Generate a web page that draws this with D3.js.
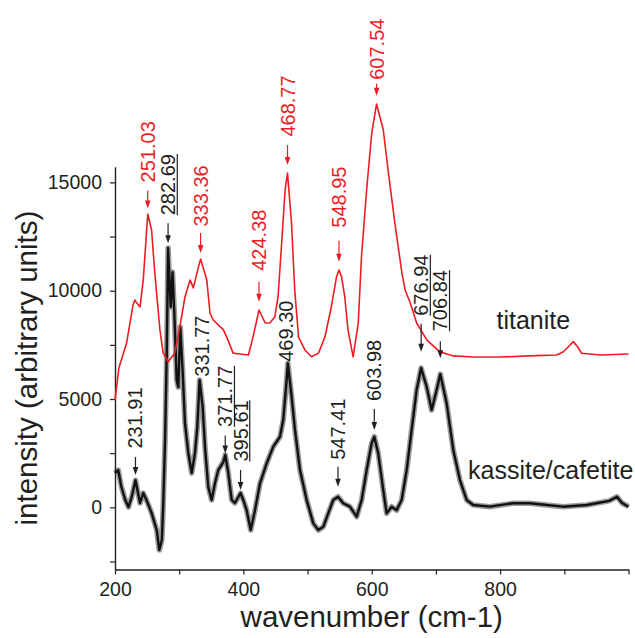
<!DOCTYPE html>
<html>
<head>
<meta charset="utf-8">
<script src="https://cdn.jsdelivr.net/npm/d3@7"></script>
<style>
  html, body { margin: 0; padding: 0; background: #ffffff; }
  svg { display: block; font-family: "Liberation Sans", Arial, Helvetica, sans-serif; }
</style>
</head>
<body>
<svg id="chart" width="635" height="638"></svg>
<script>
// Raman spectrum of titanite (offset upward)
const titaniteWavenumber = [200, 206, 218, 228, 231, 234, 239, 244, 249, 251, 257, 262, 270, 275, 283, 293, 301, 309, 317, 322, 330, 333.4, 343, 348, 353, 369, 376, 384, 395, 408, 415, 424.4, 434, 441, 449, 454, 460, 465, 468.8, 475, 480, 486, 496, 506, 517, 527, 537, 545, 549, 553, 558, 563, 571, 579, 584, 592, 600, 607.5, 618, 626, 636, 647, 652, 660, 670, 686, 706, 727, 758, 800, 846, 888, 898, 906, 914, 921, 927, 956, 1000];
const titaniteIntensity = [4950, 6430, 7570, 9340, 9570, 9430, 9250, 10490, 12650, 13540, 12800, 10820, 8190, 7120, 6720, 7120, 8320, 9710, 10490, 10130, 11090, 11460, 10490, 8970, 8650, 8190, 7720, 7120, 7080, 7030, 7860, 9110, 8510, 8510, 8790, 9710, 12340, 14650, 15430, 13130, 10030, 7860, 7260, 6950, 7120, 7860, 9250, 10630, 10960, 10630, 9710, 8190, 6950, 8510, 11560, 14650, 17280, 18620, 17420, 15430, 13130, 10820, 10030, 9430, 8510, 7720, 7180, 6990, 6940, 6940, 6990, 7030, 7170, 7400, 7650, 7400, 7110, 7030, 7080];

// Raman spectrum of kassite/cafetite
const kassiteWavenumber = [200, 205, 210, 216, 221, 226, 231.9, 239, 244, 249, 257, 265, 269, 273, 275, 278, 280.5, 281.7, 282.7, 286.8, 289.6, 292.4, 294.2, 296.1, 298.6, 301.7, 305.5, 309, 314.2, 319.5, 324.6, 328.2, 331.8, 336.6, 340.2, 345.3, 350.6, 355.8, 360.9, 368.7, 371.8, 376.5, 381.8, 386.9, 395.6, 399.8, 405.1, 411.4, 418.1, 425.9, 436.3, 446.6, 457, 462.1, 467.4, 469.3, 475.2, 480.4, 488.2, 498.6, 508.9, 516.7, 524.5, 532.2, 540, 547.4, 555.6, 566, 576.5, 584.3, 592.1, 599.8, 604, 610.1, 617.9, 623.2, 631, 638.8, 646.6, 654.4, 662.1, 669.9, 676.9, 685.5, 693.3, 701.1, 706.8, 716.7, 727, 737.4, 747.8, 758, 784, 820, 846, 898, 935, 970, 982, 990, 1000];
const kassiteIntensity = [1580, 1720, 940, 340, 10, 480, 1250, 200, 660, 340, -260, -1050, -1970, -1510, 10, 3110, 6940, 9570, 11970, 9250, 10860, 8970, 7490, 5880, 5550, 8320, 6200, 3890, 2510, 1580, 2510, 3710, 5880, 4630, 2780, 940, 340, 1120, 1720, 2090, 2420, 1580, 340, 200, 660, 340, -130, -1050, -130, 1110, 2030, 2800, 3260, 4030, 5880, 6650, 5110, 3570, 1720, 340, -740, -1050, -900, -280, 340, 490, 190, 30, -430, 340, 1720, 2960, 3260, 2490, 800, -280, 30, -130, 340, 1720, 3570, 5420, 6430, 5570, 4490, 5420, 6150, 4800, 2650, 1260, 340, 110, 30, 190, 190, 30, 110, 300, 490, 200, 30];

// Axis ticks
const xTicks = [200, 300, 400, 500, 600, 700, 800, 900, 1000];
const xTickLabels = [200, 400, 600, 800];
const yTicks = [-2500, 0, 2500, 5000, 7500, 10000, 12500, 15000];
const yTickLabels = [0, 5000, 10000, 15000];

// Peak annotations: text, position, series, intensity at the arrow tip
const peakText = ["251.03", "333.36", "424.38", "468.77", "548.95", "607.54",
                  "282.69", "231.91", "331.77", "371.77", "395.61", "469.30", "547.41", "603.98", "676.94", "706.84"];
const peakWavenumber = [251.03, 333.36, 424.38, 468.77, 548.95, 607.54,
                        282.69, 231.91, 331.77, 371.77, 395.61, 469.30, 547.41, 603.98, 676.94, 706.84];
const peakSeries = ["titanite", "titanite", "titanite", "titanite", "titanite", "titanite",
                    "kassite", "kassite", "kassite", "kassite", "kassite", "kassite", "kassite", "kassite", "kassite", "kassite"];
const peakTipLevel = [13800, 11740, 9490, 15800, 11340, 19000,
                      12190, 1490, 6030, 2490, 800, 6720, 950, 3570, 7180, 6880];

// How each annotation is drawn: arrow length / gap to text (px), underline, arrow on/off
const peakLayout = [
  { len: 18, gap: 8, under: false, arrow: true },
  { len: 20, gap: 6.5, under: false, arrow: true },
  { len: 20, gap: 11, under: false, arrow: true },
  { len: 20, gap: 8.5, under: false, arrow: true },
  { len: 21, gap: 13, under: false, arrow: true },
  { len: 12, gap: 4, under: false, arrow: true },
  { len: 20, gap: 8, under: true, arrow: true },
  { len: 18, gap: 8.5, under: false, arrow: true },
  { len: 0, gap: 0, under: false, arrow: false, dx: 2.5 },
  { len: 18, gap: 8.5, under: true, arrow: true },
  { len: 20, gap: 8.5, under: true, arrow: true },
  { len: 0, gap: 0, under: false, arrow: false, dx: -2 },
  { len: 20, gap: 7, under: false, arrow: true },
  { len: 21, gap: 8, under: false, arrow: true },
  { len: 28, gap: 8, under: true, arrow: true },
  { len: 17, gap: 10, under: true, arrow: true }
];

const RED = "#ed1c24";
const INK = "#231f20";
const seriesColor = { titanite: RED, kassite: INK };

const svg = d3.select("#chart");

const x = d3.scaleLinear().domain([200, 1000]).range([115, 628.5]);
const y = d3.scaleLinear().domain([-2870, 15725]).range([569.5, 166.7]);

// Axes
const xAxis = d3.axisBottom(x)
  .tickValues(xTicks)
  .tickFormat(d => xTickLabels.includes(d) ? d : "")
  .tickSize(5).tickSizeOuter(0).tickPadding(7.5);
const yAxis = d3.axisLeft(y)
  .tickValues(yTicks)
  .tickFormat(d => yTickLabels.includes(d) ? d : "")
  .tickSize(5).tickSizeOuter(0).tickPadding(8);

const gx = svg.append("g").attr("transform", `translate(0,${y.range()[0]})`).call(xAxis);
const gy = svg.append("g").attr("transform", `translate(${x.range()[0]},0)`).call(yAxis);
[gx, gy].forEach(g => {
  g.select(".domain").attr("stroke", INK).attr("stroke-width", 1.4);
  g.selectAll(".tick line").attr("stroke", INK).attr("stroke-width", 1.2);
  g.selectAll(".tick text").attr("fill", INK).attr("font-size", 19.5)
    .attr("font-family", "Liberation Sans, Arial, sans-serif");
});

// Axis titles
svg.append("text")
  .attr("x", (x.range()[0] + x.range()[1]) / 2).attr("y", 626.5)
  .attr("text-anchor", "middle").attr("font-size", 29.5).attr("fill", INK)
  .text("wavenumber (cm-1)");
svg.append("text")
  .attr("transform", `translate(36.5,${(y.range()[0] + y.range()[1]) / 2}) rotate(-90)`)
  .attr("text-anchor", "middle").attr("font-size", 29.5).attr("fill", INK)
  .text("intensity (arbitrary units)");

// Spectra
const line = d3.line().x(d => x(d[0])).y(d => y(d[1]));
const kassitePts = kassiteWavenumber.map((w, i) => [w, kassiteIntensity[i]]);
const titanitePts = titaniteWavenumber.map((w, i) => [w, titaniteIntensity[i]]);

// the noisy kassite trace: a soft dark band under a solid core line
svg.append("path").datum(kassitePts).attr("d", line)
  .attr("fill", "none").attr("stroke", "#222").attr("stroke-opacity", 0.45)
  .attr("stroke-width", 5.5).attr("stroke-linejoin", "round");
svg.append("path").datum(kassitePts).attr("d", line)
  .attr("fill", "none").attr("stroke", "#111").attr("stroke-width", 2.4)
  .attr("stroke-linejoin", "round");
svg.append("path").datum(titanitePts).attr("d", line)
  .attr("fill", "none").attr("stroke", RED).attr("stroke-width", 1.6)
  .attr("stroke-linejoin", "round");

// Series names
svg.append("text").attr("x", 496.5).attr("y", 328.5)
  .attr("font-size", 25).attr("fill", INK).text("titanite");
svg.append("text").attr("x", 468).attr("y", 478.5)
  .attr("font-size", 25).attr("fill", INK).text("kassite/cafetite");

// Peak annotations
const ann = svg.append("g");
peakText.forEach((t, i) => {
  const lay = peakLayout[i];
  const col = seriesColor[peakSeries[i]];
  const px = x(peakWavenumber[i]);
  const tip = y(peakTipLevel[i]);
  let textBottom = tip;
  if (lay.arrow) {
    ann.append("line")
      .attr("x1", px).attr("x2", px)
      .attr("y1", tip - lay.len).attr("y2", tip - 6)
      .attr("stroke", col).attr("stroke-width", 1.2);
    ann.append("path")
      .attr("d", `M${px},${tip} L${px - 2.8},${tip - 8} L${px + 2.8},${tip - 8} Z`)
      .attr("fill", col);
    textBottom = tip - lay.len - lay.gap;
  }
  const tx = px + (lay.dx || 0);
  const label = ann.append("text")
    .attr("transform", `translate(${tx},${textBottom}) rotate(-90)`)
    .attr("dy", "0.35em").attr("font-size", 20).attr("fill", col)
    .text(t);
  if (lay.under) {
    const len = label.node().getComputedTextLength();
    ann.append("line")
      .attr("x1", tx + 9.2).attr("x2", tx + 9.2)
      .attr("y1", textBottom).attr("y2", textBottom - len)
      .attr("stroke", col).attr("stroke-width", 1.2);
  }
});
</script>
</body>
</html>
